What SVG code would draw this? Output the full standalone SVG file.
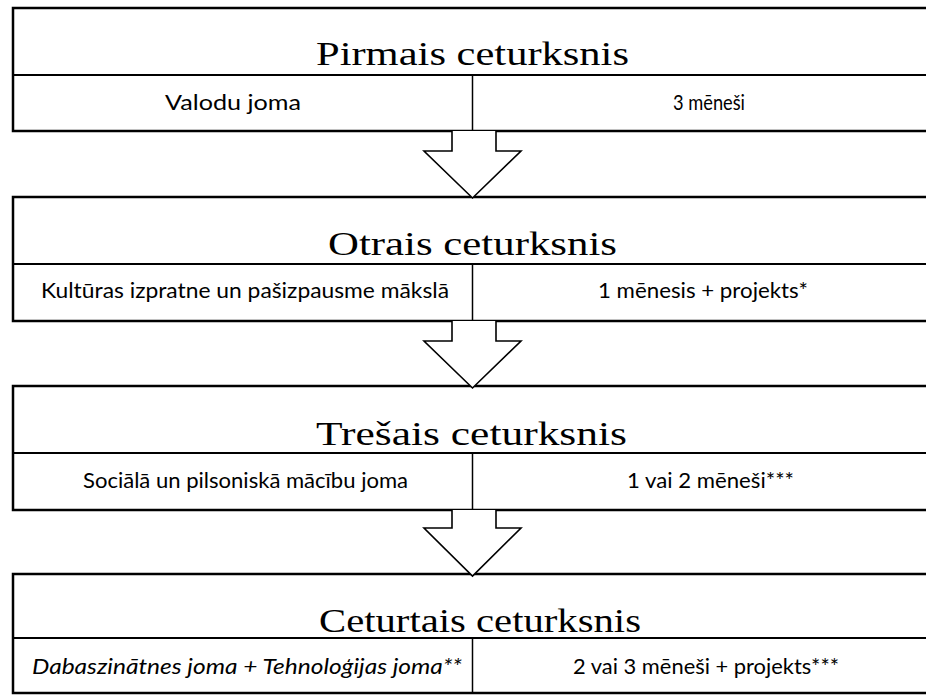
<svg xmlns="http://www.w3.org/2000/svg" width="926" height="695" viewBox="0 0 926 695">
  <style>
    .frame { fill: #ffffff; stroke: #000000; stroke-width: 2.5; }
    .rule { stroke: #000000; stroke-width: 2; fill: none; }
    .split { stroke: #000000; stroke-width: 1.5; fill: none; }
    .title { font-family: "Liberation Serif", "Times New Roman", serif; font-size: 34px; fill: #000000; }
    .cell { font-family: Lato, "Open Sans", sans-serif; font-size: 21px; fill: #000000; }
    .it { font-style: italic; }
    .arrow { fill: #ffffff; stroke: #000000; stroke-width: 1.6; stroke-linejoin: miter; }
  </style>

  <rect width="926" height="695" fill="#ffffff"/>

  <!-- Quarter 1 -->
  <g id="q1">
    <rect class="frame" x="13" y="8" width="940" height="123"/>
    <line class="rule" x1="13" y1="75" x2="953" y2="75"/>
    <line class="split" x1="472.5" y1="75" x2="472.5" y2="131"/>
    <text class="title" x="316" y="65" textLength="313" lengthAdjust="spacingAndGlyphs">Pirmais ceturksnis</text>
    <text class="cell" x="165" y="110" textLength="136" lengthAdjust="spacingAndGlyphs">Valodu joma</text>
    <text class="cell" x="673" y="110" textLength="72" lengthAdjust="spacingAndGlyphs">3 mēneši</text>
  </g>

  <!-- Quarter 2 -->
  <g id="q2">
    <rect class="frame" x="13" y="197" width="940" height="124"/>
    <line class="rule" x1="13" y1="264" x2="953" y2="264"/>
    <line class="split" x1="472.5" y1="264" x2="472.5" y2="321"/>
    <text class="title" x="328" y="255" textLength="289" lengthAdjust="spacingAndGlyphs">Otrais ceturksnis</text>
    <text class="cell" x="41" y="298" textLength="408" lengthAdjust="spacingAndGlyphs">Kultūras izpratne un pašizpausme mākslā</text>
    <text class="cell" x="598" y="298" textLength="210" lengthAdjust="spacingAndGlyphs">1 mēnesis + projekts*</text>
  </g>

  <!-- Quarter 3 -->
  <g id="q3">
    <rect class="frame" x="13" y="386" width="940" height="124"/>
    <line class="rule" x1="13" y1="453" x2="953" y2="453"/>
    <line class="split" x1="472.5" y1="453" x2="472.5" y2="510"/>
    <text class="title" x="316" y="445" textLength="311" lengthAdjust="spacingAndGlyphs">Trešais ceturksnis</text>
    <text class="cell" x="83" y="488" textLength="325" lengthAdjust="spacingAndGlyphs">Sociālā un pilsoniskā mācību joma</text>
    <text class="cell" x="627" y="488" textLength="167" lengthAdjust="spacingAndGlyphs">1 vai 2 mēneši***</text>
  </g>

  <!-- Quarter 4 -->
  <g id="q4">
    <rect class="frame" x="13" y="574" width="940" height="119"/>
    <line class="rule" x1="13" y1="638" x2="953" y2="638"/>
    <line class="split" x1="472.5" y1="638" x2="472.5" y2="693"/>
    <text class="title" x="319" y="632" textLength="322" lengthAdjust="spacingAndGlyphs">Ceturtais ceturksnis</text>
    <text class="cell it" x="32" y="674" textLength="430" lengthAdjust="spacingAndGlyphs">Dabaszinātnes joma + Tehnoloģijas joma**</text>
    <text class="cell" x="573" y="674" textLength="266" lengthAdjust="spacingAndGlyphs">2 vai 3 mēneši + projekts***</text>
  </g>

  <!-- Block arrows between quarters -->
  <g id="connectors">
    <path class="arrow" d="M452,131 V151 H424 L472.5,198 L521,151 H496 V131"/>
    <path class="arrow" d="M452,321 V341 H424 L472.5,388 L521,341 H496 V321"/>
    <path class="arrow" d="M452,510 V528 H424 L472.5,576 L521,528 H496 V510"/>
  </g>
</svg>
